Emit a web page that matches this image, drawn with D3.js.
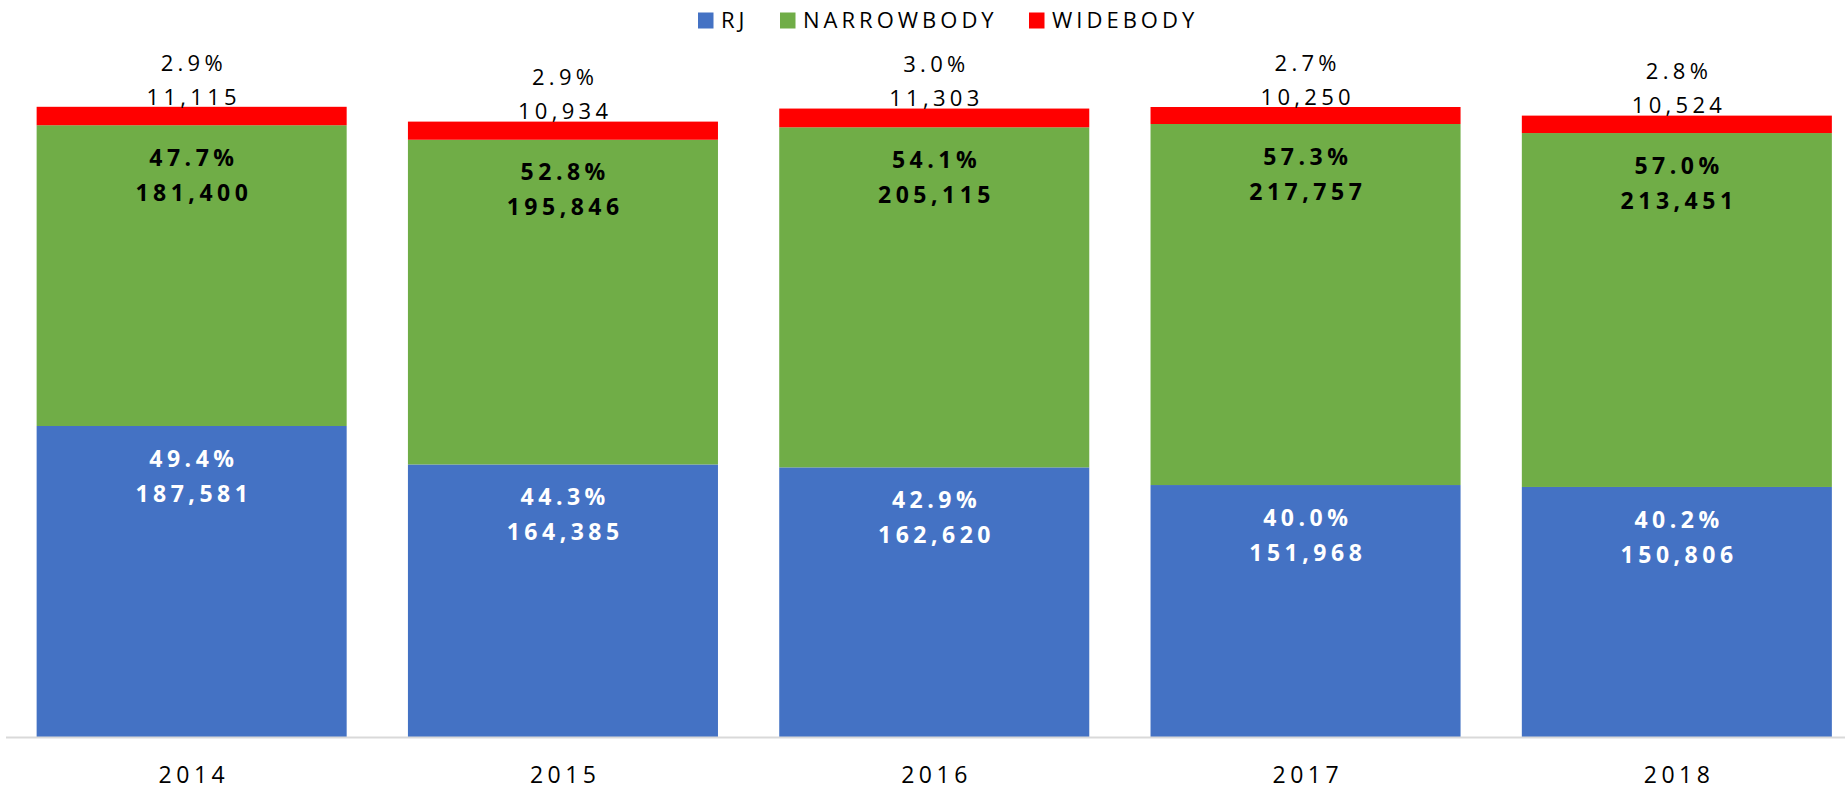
<!DOCTYPE html>
<html><head><meta charset="utf-8">
<script src="https://cdn.jsdelivr.net/npm/d3@7"></script>
<style>
html,body{margin:0;padding:0;background:#fff;}
svg{display:block;font-family:"Open Sans",sans-serif;}
</style></head>
<body><svg id="chart" width="1845" height="793"></svg>
<script>
const years = ["2014","2015","2016","2017","2018"];
const seriesNames = ["RJ","NARROWBODY","WIDEBODY"];
const rj = [187581,164385,162620,151968,150806];
const narrowbody = [181400,195846,205115,217757,213451];
const widebody = [11115,10934,11303,10250,10524];
const colors = ["#4472C4","#70AD47","#FF0000"];

const rows = years.map((y,i)=>({year:y, RJ:rj[i], NARROWBODY:narrowbody[i], WIDEBODY:widebody[i]}));
const stack = d3.stack().keys(seriesNames)(rows);

const svg = d3.select("#chart");
const x = d3.scaleBand().domain(years).range([6,1862.5]).paddingInner(0.165).paddingOuter(0.0825);
const y = d3.scaleLinear().domain([0,400000]).range([737,737-663.2]);

const fmtN = d3.format(",");
const fmtP = d3.format(".1%");

// bars
const g = svg.append("g");
stack.forEach((s,si)=>{
  g.selectAll(null).data(s).enter().append("rect")
    .attr("x",d=>x(d.data.year))
    .attr("width",x.bandwidth())
    .attr("y",d=>y(d[1]))
    .attr("height",d=>y(d[0])-y(d[1]))
    .attr("fill",colors[si]);
});

// axis
const axis = svg.append("g").attr("transform","translate(0,737)")
  .call(d3.axisBottom(x).tickSize(0).tickPadding(0));
axis.select(".domain").remove();
svg.append("line").attr("x1",6).attr("x2",1845).attr("y1",737.5).attr("y2",737.5)
  .attr("stroke","#D9D9D9").attr("stroke-width",2);
axis.selectAll("text").attr("y",38).attr("dy","0.35em").attr("dx",2.25)
  .attr("font-size",23).attr("fill","#000").attr("letter-spacing",4.5)
  .attr("font-family","'Open Sans',sans-serif");

// labels
const totals = rows.map(r=>r.RJ+r.NARROWBODY+r.WIDEBODY);
stack.forEach((s,si)=>{
  s.forEach((d,i)=>{
    const cx = x(d.data.year)+x.bandwidth()/2;
    const v = d[1]-d[0];
    const p = fmtP(v/totals[i]);
    const lines = [p, fmtN(v)];
    let y1,y2,fill,weight,fs,ls;
    if(si===2){
      y1 = y(d[1]) - 44; y2 = y(d[1]) - 10; fill="#000"; weight=400; fs=22; ls=4.3;
    } else {
      y1 = y(d[1]) + 32.5; y2 = y(d[1]) + 67.5; fill = si===0?"#fff":"#000"; weight=700; fs=23; ls=4.5;
    }
    [y1,y2].forEach((yy,k)=>{
      svg.append("text").attr("x",cx+ls/2).attr("y",yy).attr("dy","0.35em")
        .attr("text-anchor","middle").attr("font-size",fs).attr("font-weight",weight)
        .attr("letter-spacing",ls).attr("fill",fill).text(lines[k]);
    });
  });
});

// legend
const legX = [698,780,1029];
const leg = svg.append("g");
seriesNames.forEach((n,i)=>{
  leg.append("rect").attr("x",legX[i]).attr("y",12.5).attr("width",15.5).attr("height",16).attr("fill",colors[i]);
  leg.append("text").attr("x",legX[i]+23).attr("y",20.7).attr("dy","0.35em")
    .attr("font-size",22).attr("letter-spacing",4).attr("fill","#000").text(n);
});
</script></body></html>
